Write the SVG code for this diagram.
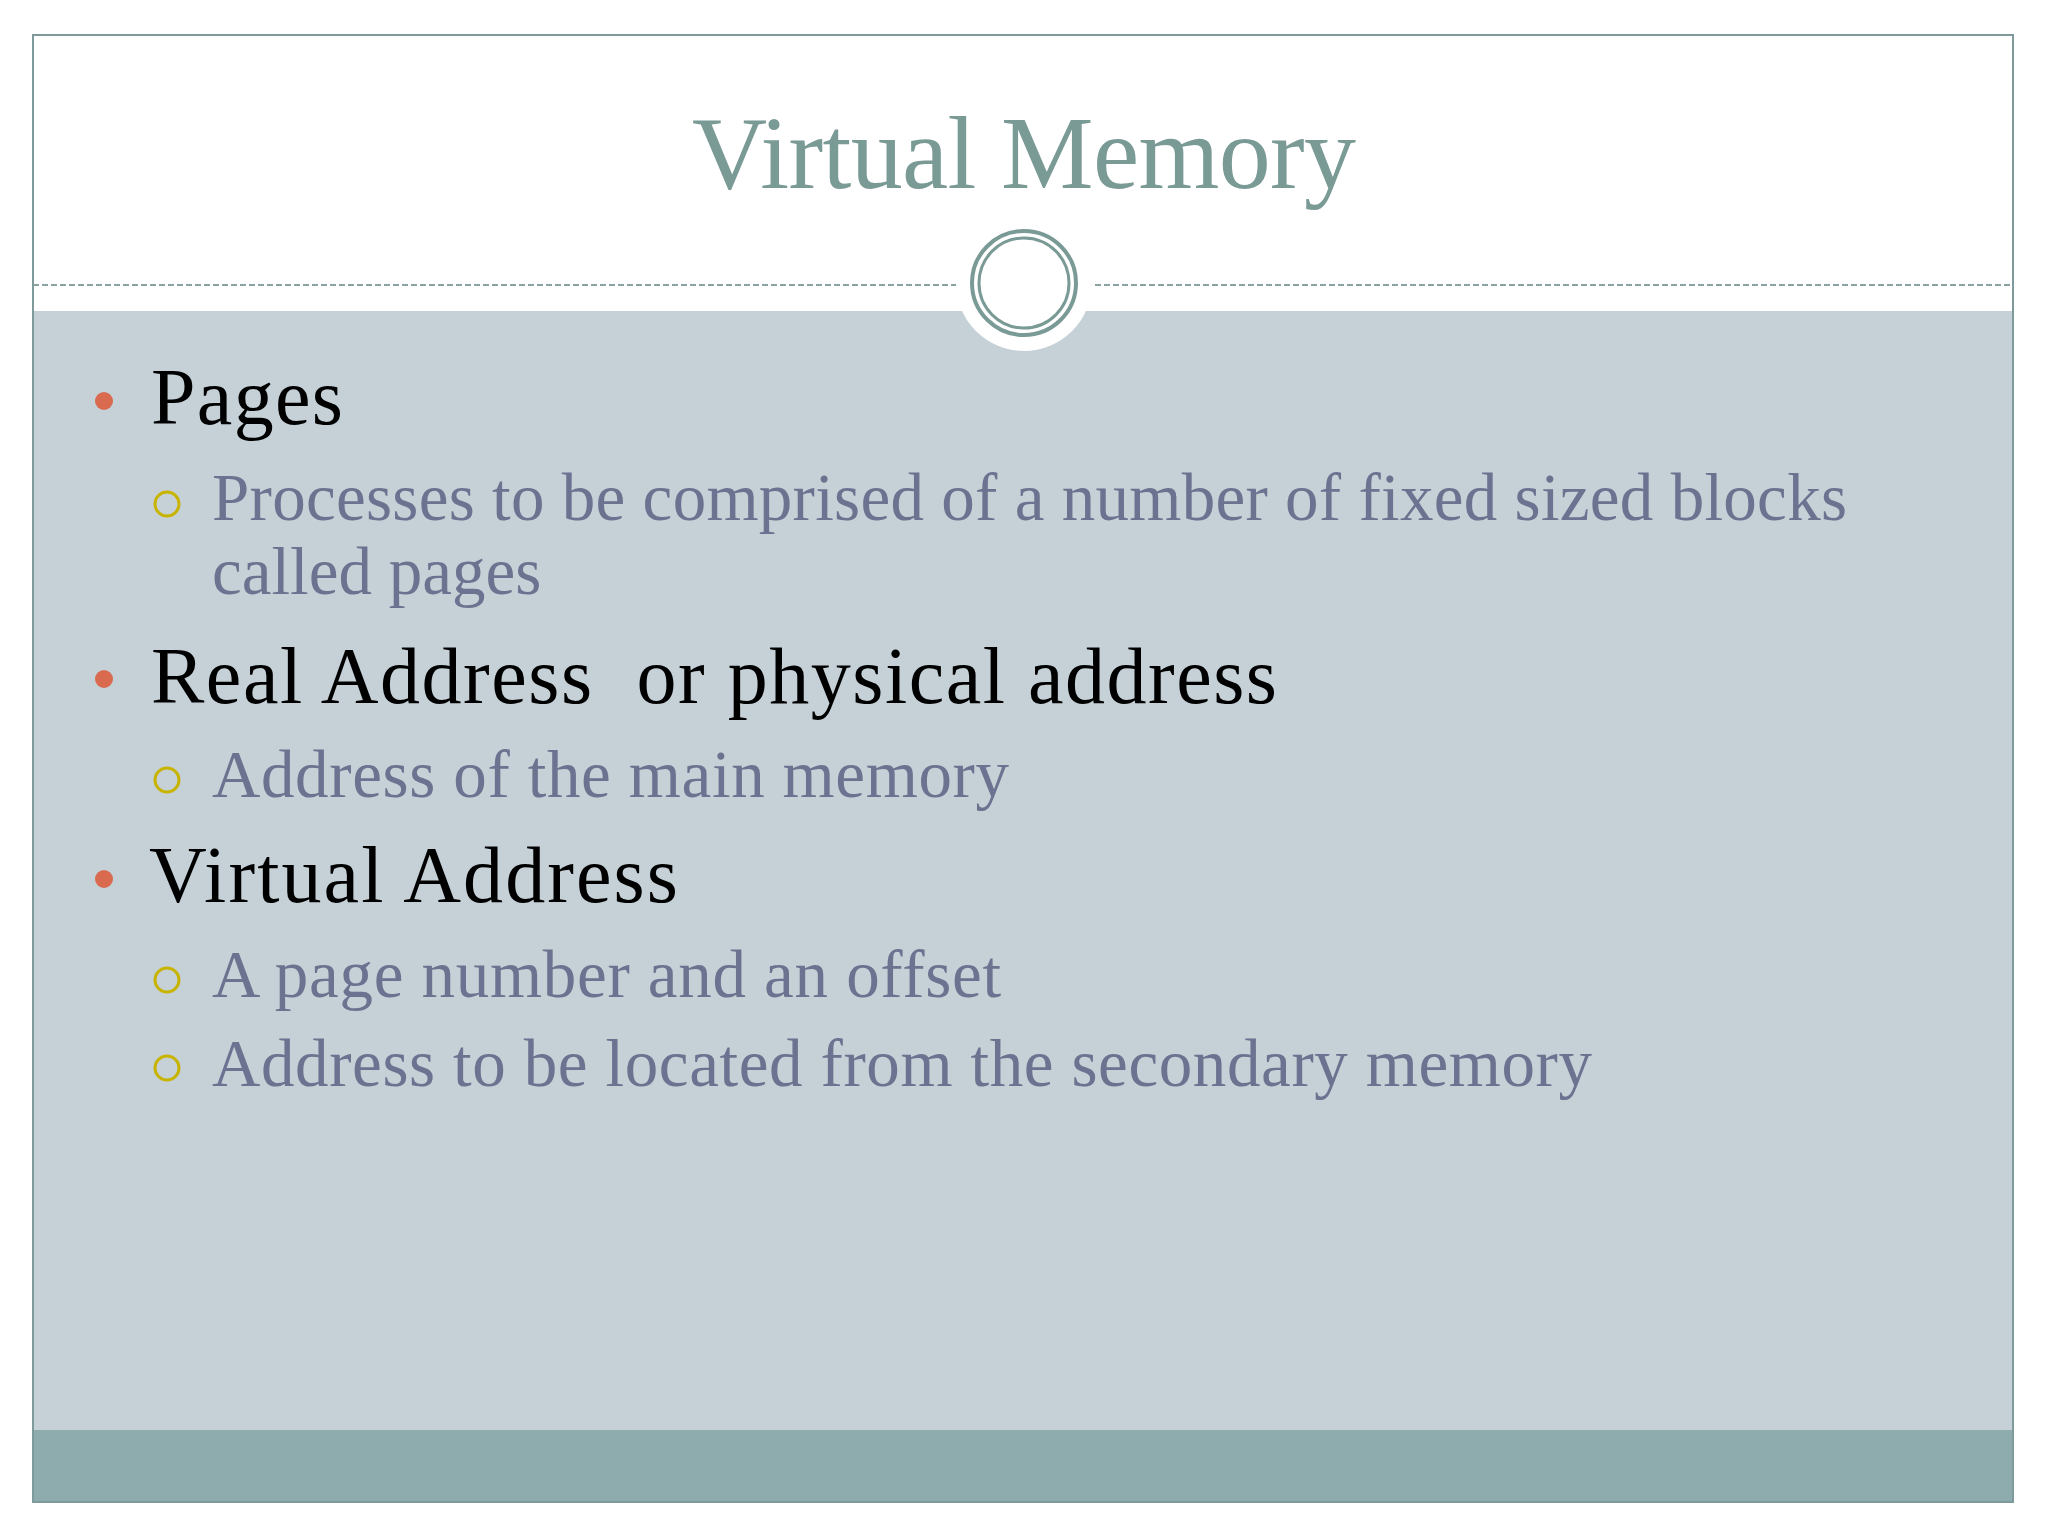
<svg xmlns="http://www.w3.org/2000/svg" width="2048" height="1536" viewBox="0 0 2048 1536">
<style>
.h{font-family:"Liberation Serif","DejaVu Serif",serif;font-size:80px;fill:#000}
.s{font-family:"Liberation Serif","DejaVu Serif",serif;font-size:67px;fill:#6b7390}
.d{fill:#d9694f}
.o{fill:none;stroke:#c8b400;stroke-width:3}
</style>
<rect width="2048" height="1536" fill="#fff"/>
<rect x="33" y="311" width="1980" height="1120" fill="#c5d1d7"/>
<rect x="33" y="1430" width="1980" height="72" fill="#8eabad"/>
<line x1="33" y1="285" x2="2013" y2="285" stroke="#8aa2a2" stroke-width="2" stroke-dasharray="6,3"/>
<circle cx="1024" cy="283" r="68" fill="#fff"/>
<circle cx="1024" cy="283" r="52" fill="none" stroke="#7a9a96" stroke-width="4"/>
<circle cx="1024" cy="283" r="45" fill="none" stroke="#7a9a96" stroke-width="3"/>
<rect x="33" y="35" width="1980" height="1467" fill="none" stroke="#7f9a9a" stroke-width="2"/>
<text x="1024" y="188" text-anchor="middle" font-family="Liberation Serif, DejaVu Serif, serif" font-size="104" fill="#7a9a96" textLength="664">Virtual Memory</text>
<g id="b1"><circle class="d" cx="104" cy="401" r="9"/><text class="h" x="151" y="424" textLength="192">Pages</text></g>
<g id="s1"><circle class="o" cx="167" cy="504" r="12"/><text class="s" x="212" y="520" textLength="1635">Processes to be comprised of a number of fixed sized blocks</text><text class="s" x="212" y="594">called pages</text></g>
<g id="b2"><circle class="d" cx="104" cy="679" r="9"/><text class="h" x="151" y="703" textLength="1126" xml:space="preserve">Real Address  or physical address</text></g>
<g id="s2"><circle class="o" cx="167" cy="780" r="12"/><text class="s" x="212" y="797" textLength="797">Address of the main memory</text></g>
<g id="b3"><circle class="d" cx="104" cy="879" r="9"/><text class="h" x="149" y="902" textLength="529">Virtual Address</text></g>
<g id="s3"><circle class="o" cx="167" cy="980" r="12"/><text class="s" x="212" y="997" textLength="789">A page number and an offset</text></g>
<g id="s4"><circle class="o" cx="167" cy="1068" r="12"/><text class="s" x="212" y="1086" textLength="1380">Address to be located from the secondary memory</text></g>
<g id="connectors"/>
</svg>
